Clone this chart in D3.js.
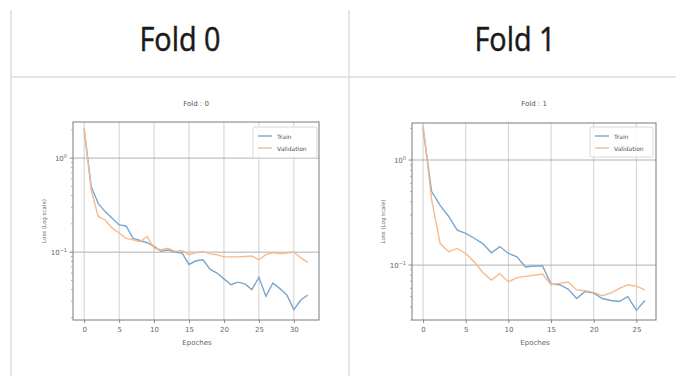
<!DOCTYPE html>
<html><head><meta charset="utf-8">
<script src="https://cdn.jsdelivr.net/npm/d3@7"></script>
<style>html,body{margin:0;padding:0;background:#fff;}svg{display:block;}</style>
</head><body>
<svg id="c" width="676" height="376"></svg>
<script>
const panelTitles = ["Fold 0", "Fold 1"];
const plotTitles = ["Fold : 0", "Fold : 1"];
const seriesNames = ["Train", "Validation"];
const xTicks = [0, 5, 10, 15, 20, 25, 30];

const fold0Train = [2.0,0.50,0.33,0.27,0.23,0.195,0.19,0.14,0.133,0.126,0.115,0.102,0.106,0.100,0.098,0.074,0.081,0.083,0.066,0.060,0.052,0.045,0.048,0.046,0.040,0.054,0.034,0.047,0.041,0.035,0.0245,0.031,0.035];
const fold0Val = [2.1,0.46,0.24,0.22,0.18,0.16,0.14,0.135,0.129,0.147,0.110,0.106,0.110,0.102,0.104,0.094,0.099,0.102,0.096,0.094,0.089,0.089,0.089,0.090,0.091,0.083,0.094,0.099,0.096,0.098,0.100,0.087,0.078];
const fold1Train = [2.0,0.50,0.37,0.29,0.215,0.20,0.18,0.16,0.131,0.15,0.129,0.12,0.096,0.098,0.098,0.066,0.065,0.059,0.048,0.056,0.054,0.048,0.046,0.045,0.050,0.037,0.046];
const fold1Val = [2.15,0.42,0.16,0.134,0.144,0.129,0.107,0.085,0.072,0.083,0.069,0.076,0.078,0.080,0.082,0.065,0.067,0.069,0.058,0.057,0.055,0.051,0.054,0.060,0.065,0.063,0.058];

const svg = d3.select("#c");
const border = "#dcdcdc";
svg.append("line").attr("x1",11).attr("x2",11).attr("y1",10).attr("y2",376).attr("stroke",border).attr("stroke-width",1.5);
svg.append("line").attr("x1",349).attr("x2",349).attr("y1",10).attr("y2",376).attr("stroke",border).attr("stroke-width",1.5);
svg.append("line").attr("x1",11).attr("x2",676).attr("y1",77).attr("y2",77).attr("stroke",border).attr("stroke-width",1.5);

const panels = [
  {title: panelTitles[0], cx: 180, plot: plotTitles[0], train: fold0Train, val: fold0Val,
   left: 73, right: 319, top: 122, bottom: 320, xdom: [-1.6, 33.6], ydom: [0.019, 2.42],
   legend: {x: 253, y: 127, w: 64, h: 31}},
  {title: panelTitles[1], cx: 515, plot: plotTitles[1], train: fold1Train, val: fold1Val,
   left: 412, right: 656, top: 123, bottom: 320, xdom: [-1.3, 27.3], ydom: [0.030, 2.25],
   legend: {x: 590, y: 127, w: 63, h: 30}}
];

const colors = ["#7ba6cc", "#f5ba8e"];

panels.forEach(p => {
  svg.append("text").attr("x", p.cx).attr("y", 51).attr("text-anchor","middle")
    .attr("font-family","Open Sans, Noto Sans, sans-serif").attr("font-size",32)
    .attr("fill","#1a1a1a").attr("stroke","#1a1a1a").attr("stroke-width",0.5)
    .attr("transform",`translate(${p.cx},0) scale(0.9,1) translate(${-p.cx},0)`).text(p.title);

  const x = d3.scaleLinear().domain(p.xdom).range([p.left, p.right]);
  const y = d3.scaleLog().domain(p.ydom).range([p.bottom, p.top]);
  const g = svg.append("g");
  const ticks = xTicks.filter(t => t <= p.xdom[1]);

  g.selectAll(".vg").data(ticks).join("line")
    .attr("x1", d => x(d)).attr("x2", d => x(d)).attr("y1", p.top).attr("y2", p.bottom)
    .attr("stroke", "#d0d0d0").attr("stroke-width", 1);
  const decades = [1, 0.1];
  g.selectAll(".hg").data(decades).join("line")
    .attr("x1", p.left).attr("x2", p.right).attr("y1", d => y(d)).attr("y2", d => y(d))
    .attr("stroke", "#b0b0b0").attr("stroke-width", 1);

  const line = d3.line().x((d, i) => x(i)).y(d => y(d));
  [p.train, p.val].forEach((s, k) => {
    g.append("path").datum(s).attr("d", line).attr("fill","none")
      .attr("stroke", colors[k]).attr("stroke-width", 1.4);
  });

  g.append("rect").attr("x", p.left).attr("y", p.top).attr("width", p.right - p.left).attr("height", p.bottom - p.top)
    .attr("fill","none").attr("stroke","#7a7a7a").attr("stroke-width",1);

  const xa = g.append("g").attr("transform", `translate(0,${p.bottom})`)
    .call(d3.axisBottom(x).tickValues(ticks).tickSize(3).tickFormat(d3.format("d")));
  xa.select(".domain").remove();
  xa.selectAll("line").attr("stroke","#888");
  xa.selectAll("text").attr("font-family","DejaVu Sans, sans-serif").attr("font-size",7).attr("fill","#666").attr("dy","0.9em");

  const minors = [];
  [0.01, 0.1, 1].forEach(b => { for (let m = 2; m <= 9; m++) { const v = b*m; if (v >= p.ydom[0] && v <= p.ydom[1]) minors.push(v); } });
  g.selectAll(".ym").data(minors).join("line")
    .attr("x1", p.left - 2).attr("x2", p.left).attr("y1", d => y(d)).attr("y2", d => y(d))
    .attr("stroke","#999").attr("stroke-width",0.8);
  g.selectAll(".yM").data(decades).join("line")
    .attr("x1", p.left - 3.5).attr("x2", p.left).attr("y1", d => y(d)).attr("y2", d => y(d))
    .attr("stroke","#888").attr("stroke-width",1);
  const exps = ["0", "−1"];
  decades.forEach((d, i) => {
    const t = g.append("text").attr("x", p.left - 6).attr("y", y(d) + 3).attr("text-anchor","end")
      .attr("font-family","DejaVu Sans, sans-serif").attr("font-size",7).attr("fill","#666");
    t.append("tspan").text("10");
    t.append("tspan").attr("dy", -3).attr("font-size",5).text(exps[i]);
  });

  g.append("text").attr("x", (p.left + p.right)/2).attr("y", 106).attr("text-anchor","middle")
    .attr("font-family","DejaVu Sans, sans-serif").attr("font-size",7).attr("fill","#555").text(p.plot);
  g.append("text").attr("x", (p.left + p.right)/2 + 1).attr("y", 345).attr("text-anchor","middle")
    .attr("font-family","DejaVu Sans, sans-serif").attr("font-size",7).attr("fill","#666").text("Epoches");
  g.append("text").attr("transform", `translate(${p.left - 27},${(p.top + p.bottom)/2}) rotate(-90)`).attr("text-anchor","middle")
    .attr("font-family","DejaVu Sans, sans-serif").attr("font-size",5.5).attr("fill","#666").text("Loss (Log scale)");

  const L = p.legend;
  g.append("rect").attr("x", L.x).attr("y", L.y).attr("width", L.w).attr("height", L.h).attr("rx", 1.5)
    .attr("fill","#fff").attr("fill-opacity",0.85).attr("stroke","#d8d8d8");
  seriesNames.forEach((n, k) => {
    const ly = L.y + 9 + k * 12;
    g.append("line").attr("x1", L.x + 5).attr("x2", L.x + 19).attr("y1", ly).attr("y2", ly)
      .attr("stroke", colors[k]).attr("stroke-width", 1.4);
    g.append("text").attr("x", L.x + 24).attr("y", ly + 2.5)
      .attr("font-family","DejaVu Sans, sans-serif").attr("font-size",6).attr("fill","#555").text(n);
  });
});
</script>
</body></html>
